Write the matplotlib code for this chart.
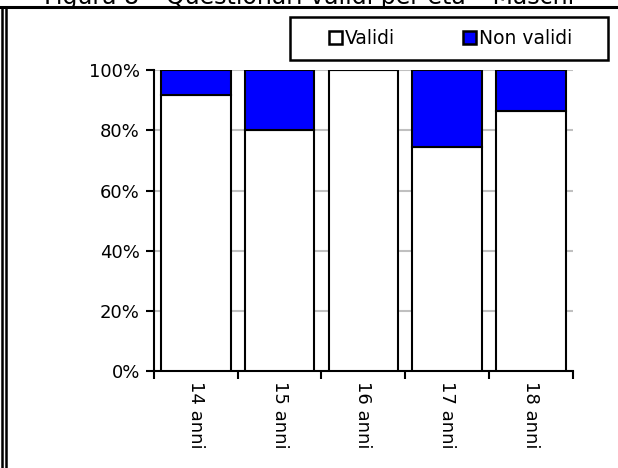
import matplotlib
matplotlib.use("Agg")
import matplotlib.pyplot as plt
from matplotlib.lines import Line2D
from matplotlib.patches import Patch, Rectangle
from matplotlib.ticker import FixedLocator, FuncFormatter

categories = ["14 anni", "15 anni", "16 anni", "17 anni", "18 anni"]
validi = [91.7, 80.0, 100.0, 74.6, 86.5]
non_validi = [8.3, 20.0, 0.0, 25.4, 13.5]

fig = plt.figure(figsize=(6.18, 4.68), dpi=100)
ax = fig.add_axes([0.249, 0.207, 0.678, 0.643])

x = list(range(len(categories)))
ax.bar(x, validi, width=0.83, color="white", edgecolor="black", linewidth=1.5, zorder=3)
ax.bar(x, non_validi, width=0.83, bottom=validi, color="#0000ff", edgecolor="black",
       linewidth=1.5, zorder=3)

ax.set_xlim(-0.5, len(categories) - 0.5)
ax.set_ylim(0, 100)
ax.set_yticks([0, 20, 40, 60, 80, 100])
ax.yaxis.set_major_formatter(FuncFormatter(lambda v, p: f"{int(v)}%"))
ax.yaxis.grid(True, color="#c0c0c0", linewidth=1.5, zorder=0)
ax.tick_params(axis="y", direction="out", length=6, width=1.5, labelsize=13, pad=4)

ax.set_xticks(x)
ax.set_xticklabels(categories, rotation=270, fontsize=13)
ax.tick_params(axis="x", which="major", length=0, pad=7)
ax.xaxis.set_minor_locator(FixedLocator([i - 0.5 for i in range(len(categories) + 1)]))
ax.tick_params(axis="x", which="minor", direction="out", length=6, width=1.5)

for s in ["top", "right"]:
    ax.spines[s].set_visible(False)
ax.spines["left"].set_linewidth(1.5)
ax.spines["bottom"].set_linewidth(1.5)

# legend box drawn separately so its size matches the reference
fig.add_artist(Rectangle((0.469, 0.872), 0.515, 0.092, transform=fig.transFigure,
                         facecolor="white", edgecolor="black", linewidth=1.8))
handles = [Patch(facecolor="white", edgecolor="black", linewidth=1.8, label="Validi"),
           Patch(facecolor="#0000ff", edgecolor="black", linewidth=1.8, label="Non validi")]
fig.legend(handles=handles, loc="center", bbox_to_anchor=(0.729, 0.917), ncol=2,
           fontsize=13.5, frameon=False, handlelength=0.7, handleheight=0.7,
           handletextpad=0.15, columnspacing=3.6, borderpad=0.0)

# page decorations: caption cut at the top edge as in the source, rule and double border
fig.text(0.5, 0.991, "Figura 8 – Questionari validi per età – Maschi", ha="center",
         va="baseline", fontsize=17)
fig.add_artist(Line2D([0, 1], [0.986, 0.986], color="black", linewidth=2.2,
                      transform=fig.transFigure))
for xv in [0.0035, 0.0098]:
    fig.add_artist(Line2D([xv, xv], [0, 0.986], color="black", linewidth=1.8,
                          transform=fig.transFigure))

fig.savefig("out.png", dpi=100)
